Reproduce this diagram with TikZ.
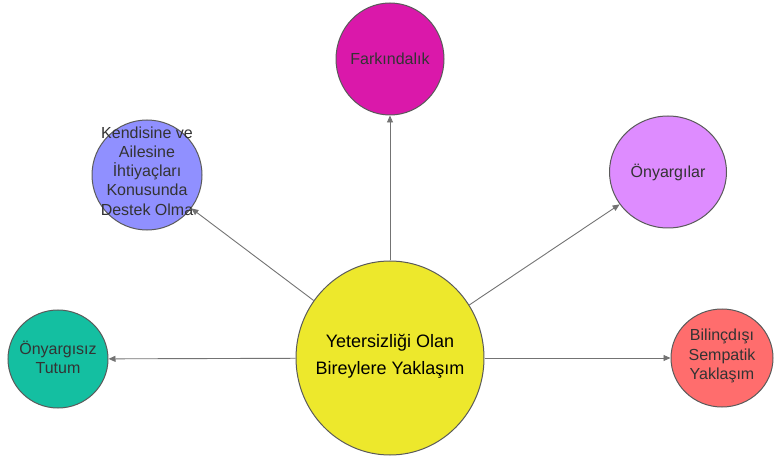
\documentclass[tikz,border=0pt]{standalone}
\usepackage{fontspec}
\setmainfont{Liberation Sans}
\usetikzlibrary{shapes.geometric,arrows.meta}
\definecolor{hubfill}{HTML}{EDE82C}
\definecolor{magfill}{HTML}{DA18AA}
\definecolor{bluefill}{HTML}{9090FF}
\definecolor{lilacfill}{HTML}{DE8CFF}
\definecolor{tealfill}{HTML}{14BFA1}
\definecolor{redfill}{HTML}{FF6D6D}
\definecolor{edgegray}{HTML}{5A5A5A}
\definecolor{txt}{HTML}{333333}
\tikzset{
  bubble/.style={ellipse, draw=edgegray, line width=1pt, inner sep=0pt},
  btext/.style={font=\fontsize{16}{19.2}\selectfont, text=txt, align=center},
  link/.style={draw=edgegray!85, line width=0.9pt, -{Triangle[length=7pt,width=6pt]}}
}
\begin{document}
\begin{tikzpicture}[x=1pt,y=-1pt]
\useasboundingbox (0,0) rectangle (774,457);
% hub
\node[bubble, fill=hubfill, minimum width=188pt, minimum height=194pt] (hub) at (390,358)
  {};
\node[font=\fontsize{18}{27}\selectfont, text=black, align=center] (hubt) at (390,356)
  {Yetersizliği Olan\\Bireylere Yaklaşım};
% outer bubbles
\node[bubble, fill=magfill, minimum width=108pt, minimum height=112pt] (fark) at (390,59) {};
\node[btext] (farkt) at (fark) {Farkındalık};
\node[bubble, fill=bluefill, minimum width=110pt, minimum height=110pt] (aile) at (147,175) {};
\node[btext] (ailet) at (147,171) {Kendisine ve\\Ailesine\\İhtiyaçları\\Konusunda\\Destek Olma};
\node[bubble, fill=lilacfill, minimum width=117pt, minimum height=112pt] (onyar) at (668,172) {};
\node[btext] (onyart) at (onyar) {Önyargılar};
\node[bubble, fill=tealfill, minimum width=100pt, minimum height=98pt] (tutum) at (58,359) {};
\node[btext] (tutumt) at (58,357) {Önyargısız\\Tutum};
\node[bubble, fill=redfill, minimum width=102pt, minimum height=98pt] (bilinc) at (722,358) {};
\node[btext] (bilinct) at (722,356) {Bilinçdışı\\Sempatik\\Yaklaşım};
% connectors from the hub
\draw[link] (hub) -- (fark);
\draw[link] (hub) -- (aile);
\draw[link] (hub) -- (onyar);
\draw[link] (hub) -- (tutum);
\draw[link] (hub) -- (bilinc);
\end{tikzpicture}
\end{document}
